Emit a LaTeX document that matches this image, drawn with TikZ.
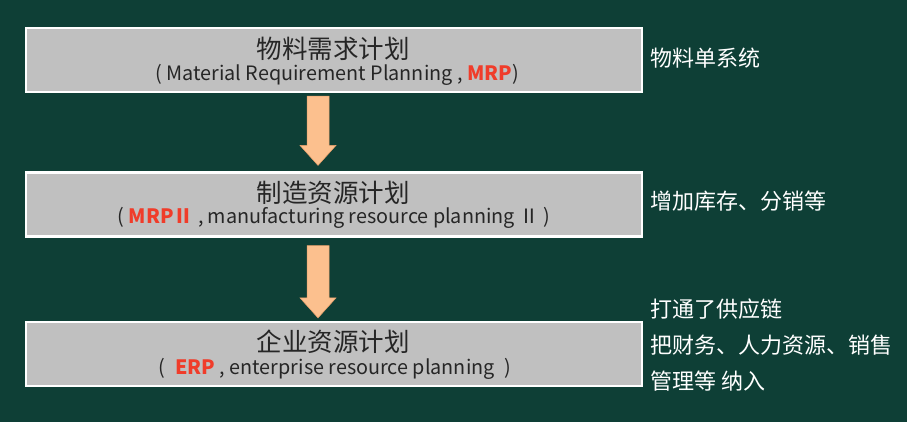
\documentclass[tikz,border=0pt]{standalone}
\usepackage{fontspec}
\setmainfont{Noto Sans CJK SC}
\usetikzlibrary{calc}
\definecolor{bgc}{HTML}{0E3F36}
\definecolor{boxc}{HTML}{C0C0C0}
\definecolor{redc}{HTML}{F03C2A}
\definecolor{arrc}{HTML}{FCC08E}
\definecolor{arre}{HTML}{E9A06A}
\tikzset{
  stage/.style={draw=white, line width=2.2pt, fill=boxc, minimum width=616pt, minimum height=64pt, inner sep=0pt},
  ttl/.style={font=\fontsize{25.5}{27}\selectfont, text=black!85, inner sep=0pt},
  sub/.style={font=\fontsize{19.8}{21}\selectfont, text=black!85, inner sep=0pt},
  note/.style={font=\fontsize{22}{24}\selectfont, text=white, anchor=west, inner sep=0pt},
  fat/.style={fill=arrc, draw=arre, line width=0.5pt}
}
\newcommand\mydownarrow[2]{%
  \path[fat] ($(#1)+(-11,0)$) -- ($(#1)+(11,0)$) -- ($(#2)+(11,-20)$) -- ($(#2)+(18,-20)$) -- (#2) -- ($(#2)+(-18,-20)$) -- ($(#2)+(-11,-20)$) -- cycle;}
\begin{document}
\begin{tikzpicture}[x=1pt,y=-1pt]
\fill[bgc] (0,0) rectangle (907,422);
\useasboundingbox (0,0) rectangle (907,422);
\node[stage] (b1) at (334,60) {};
\node[stage] (b2) at (334,204.5) {};
\node[stage] (b3) at (334,354) {};
\node[ttl] (t1) at (333,49) {物料需求计划};
\node[sub] (s1) at (337,75) {( Material Requirement Planning , \textcolor{redc}{\textbf{MRP}})};
\node[ttl] (t2) at (333,193) {制造资源计划};
\node[sub] (s2) at (334,218) {( \textcolor{redc}{\textbf{MRPⅡ}} , manufacturing resource planning Ⅱ )};
\node[ttl] (t3) at (333,342) {企业资源计划};
\node[sub] (s3) at (335,369) {(\enspace\textcolor{redc}{\textbf{ERP}} , enterprise resource planning\enspace)};
\coordinate (a1s) at ($(b1.south)+(-16,3)$);
\coordinate (a1e) at ($(b2.north)+(-16,-6)$);
\coordinate (a2s) at ($(b2.south)+(-16,8)$);
\coordinate (a2e) at ($(b3.north)+(-16,-3)$);
\mydownarrow{a1s}{a1e}
\mydownarrow{a2s}{a2e}
\node[note] (n1) at (650,58) {物料单系统};
\node[note] (n2) at (650,201) {增加库存、分销等};
\node[note] (n3) at (650,309) {打通了供应链};
\node[note] (n4) at (650,345) {把财务、人力资源、销售};
\node[note] (n5) at (650,381) {管理等 纳入};
\end{tikzpicture}
\end{document}
